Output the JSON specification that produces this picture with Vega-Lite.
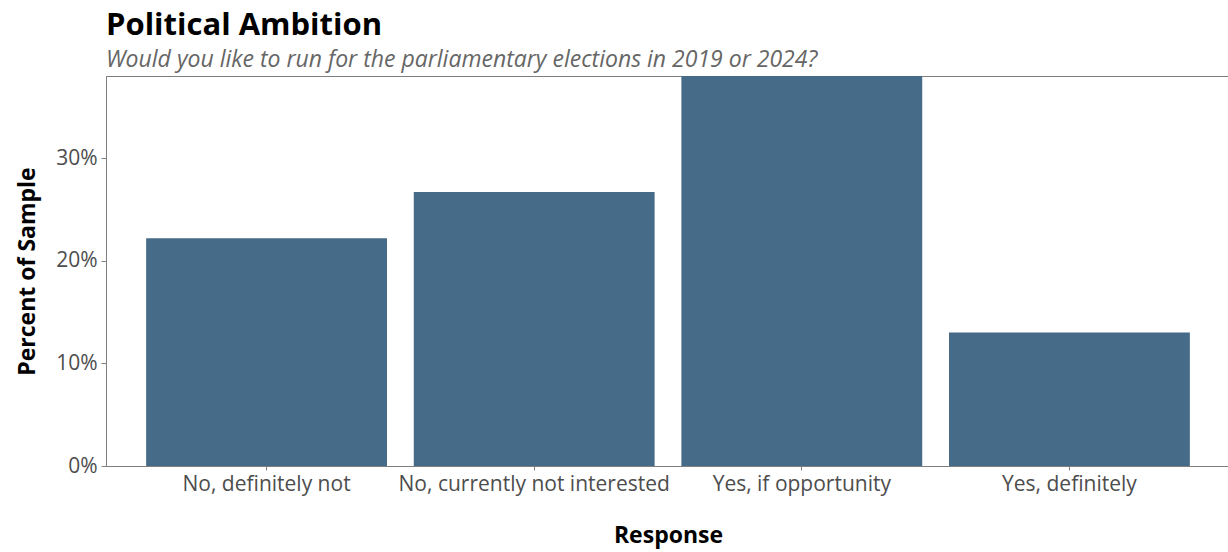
{
  "$schema": "https://vega.github.io/schema/vega-lite/v6.json",
  "autosize": {"type": "none"},
  "width": 1124,
  "height": 390,
  "padding": {"left": 106, "top": 76, "right": 0, "bottom": 86},
  "background": "white",
  "title": {
    "text": "Political Ambition",
    "subtitle": "Would you like to run for the parliamentary elections in 2019 or 2024?",
    "anchor": "start",
    "frame": "group",
    "font": "Open Sans",
    "fontSize": 31,
    "fontWeight": "bold",
    "color": "#000000",
    "subtitleFont": "Open Sans",
    "subtitleFontSize": 23,
    "subtitleFontStyle": "italic",
    "subtitleColor": "#666666",
    "subtitlePadding": 7,
    "offset": 3
  },
  "data": {
    "values": [
      {"response": "No, definitely not", "pct": 0.222},
      {"response": "No, currently not interested", "pct": 0.267},
      {"response": "Yes, if opportunity", "pct": 0.380},
      {"response": "Yes, definitely", "pct": 0.130}
    ]
  },
  "mark": {"type": "bar", "color": "#466b88", "clip": true},
  "encoding": {
    "x": {
      "field": "response",
      "type": "nominal",
      "sort": null,
      "scale": {"paddingInner": 0.1, "paddingOuter": 0.15},
      "axis": {
        "title": "Response",
        "titleFont": "Open Sans",
        "titleFontSize": 23,
        "titleFontWeight": "bold",
        "titleColor": "#000000",
        "titlePadding": 30,
        "labelAngle": 0,
        "labelFont": "Open Sans",
        "labelFontSize": 21,
        "labelColor": "#4d4d4d",
        "labelPadding": 3,
        "labelLimit": 0,
        "tickColor": "#7f7f7f",
        "tickSize": 4,
        "domainColor": "#7f7f7f",
        "labelOverlap": false
      }
    },
    "y": {
      "field": "pct",
      "type": "quantitative",
      "scale": {"domain": [0, 0.38], "nice": false},
      "axis": {
        "title": "Percent of Sample",
        "titleFont": "Open Sans",
        "titleFontSize": 23,
        "titleFontWeight": "bold",
        "titleColor": "#000000",
        "titlePadding": 16,
        "values": [0, 0.1, 0.2, 0.3],
        "format": ".0%",
        "labelFont": "Open Sans",
        "labelFontSize": 21,
        "labelColor": "#4d4d4d",
        "labelPadding": 4,
        "tickColor": "#7f7f7f",
        "tickSize": 5,
        "domainColor": "#7f7f7f",
        "grid": false
      }
    }
  },
  "config": {
    "view": {"stroke": "#7f7f7f", "strokeWidth": 1}
  }
}
